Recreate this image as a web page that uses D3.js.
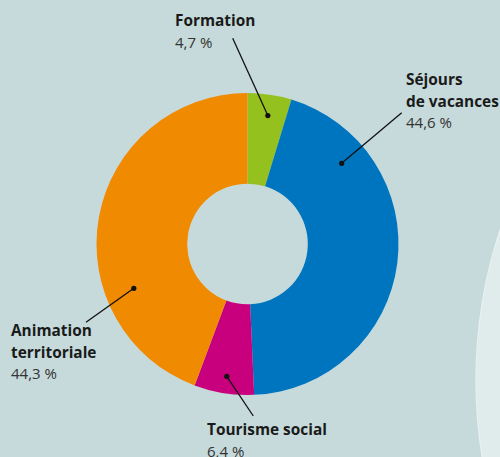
<!DOCTYPE html>
<html><head><meta charset="utf-8">
<script src="https://cdn.jsdelivr.net/npm/d3@7"></script>
<style>
html,body{margin:0;padding:0;background:#c6dadb;}
svg{display:block;}
text{font-family:"Open Sans",Lato,sans-serif;}
</style></head>
<body>
<svg id="chart" width="500" height="457"></svg>
<script>
const categories = ["Formation", "Séjours de vacances", "Tourisme social", "Animation territoriale"];
const nameLines = [["Formation"], ["Séjours", "de vacances"], ["Tourisme social"], ["Animation", "territoriale"]];
const values = [4.7, 44.6, 6.4, 44.3];
const valueLabels = ["4,7 %", "44,6 %", "6,4 %", "44,3 %"];
const colors = ["#95c11f", "#0075bf", "#c8007d", "#f08a00"];

// layout (callouts): dot angle (deg), dot radius, line end, label anchor
const callouts = [
  {dotA: 9.0, dotR: 130, end: [232.7, 38.3], lx: 175, ly: 26},
  {dotA: 49.4, dotR: 124, end: [401.7, 112.7], lx: 406, ly: 85},
  {dotA: 188.9, dotR: 134, end: [253.3, 416], lx: 207, ly: 435},
  {dotA: 248.7, dotR: 122, end: [86, 322.3], lx: 11, ly: 336}
];

const svg = d3.select("#chart");
const cx = 247.5, cy = 244, rOuter = 151, rInner = 60.3;

// background decorative arc on the right
svg.append("circle").attr("cx", 956).attr("cy", 380).attr("r", 480)
  .attr("fill", "#e0ebec").attr("stroke", "#e9f1f1").attr("stroke-width", 1.2);

const pie = d3.pie().sort(null).value(d => d).startAngle(0).endAngle(2 * Math.PI);
const arcs = pie(values);
const arc = d3.arc().innerRadius(rInner).outerRadius(rOuter);

const g = svg.append("g").attr("transform", `translate(${cx},${cy})`);
g.selectAll("path").data(arcs).enter().append("path")
  .attr("d", arc).attr("fill", (d, i) => colors[i]);

const lineLayer = svg.append("g");
callouts.forEach((c, i) => {
  const a = c.dotA * Math.PI / 180;
  const px = cx + c.dotR * Math.sin(a), py = cy - c.dotR * Math.cos(a);
  lineLayer.append("line").attr("x1", px).attr("y1", py)
    .attr("x2", c.end[0]).attr("y2", c.end[1])
    .attr("stroke", "#111").attr("stroke-width", 1.3);
  lineLayer.append("circle").attr("cx", px).attr("cy", py).attr("r", 2.6).attr("fill", "#111");

  const t = svg.append("text").attr("x", c.lx).attr("y", c.ly);
  nameLines[i].forEach((ln, k) => {
    t.append("tspan").attr("x", c.lx).attr("dy", k === 0 ? 0 : 21.5)
      .attr("font-weight", 700).attr("font-size", 15.4)
      .attr("fill", "#1a1a1a").text(ln);
  });
  t.append("tspan").attr("x", c.lx).attr("dy", 21.5)
    .attr("font-weight", 400).attr("font-size", 15).attr("fill", "#333").text(valueLabels[i]);
});
</script>
</body></html>
